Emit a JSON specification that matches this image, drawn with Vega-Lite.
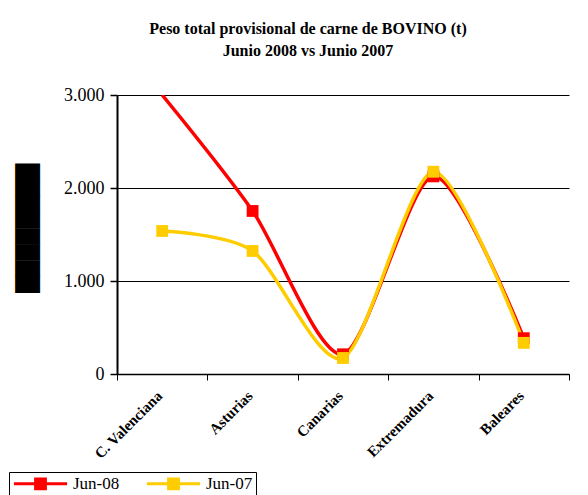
{
  "$schema": "https://vega.github.io/schema/vega-lite/v6.json",
  "width": 452,
  "height": 279,
  "autosize": {"type": "none"},
  "padding": {"left": 117, "top": 95, "right": 19, "bottom": 121},
  "background": "white",
  "title": {
    "text": ["Peso total provisional de carne de BOVINO (t)", "Junio 2008 vs Junio 2007"],
    "font": "Liberation Serif",
    "fontSize": 16,
    "fontWeight": "bold",
    "color": "black",
    "anchor": "middle",
    "frame": "group",
    "dx": -35,
    "offset": 27,
    "lineHeight": 22
  },
  "data": {
    "values": [
      {"region": "C. Valenciana", "serie": "Jun-08", "value": 3000},
      {"region": "Asturias", "serie": "Jun-08", "value": 1753},
      {"region": "Canarias", "serie": "Jun-08", "value": 212},
      {"region": "Extremadura", "serie": "Jun-08", "value": 2125},
      {"region": "Baleares", "serie": "Jun-08", "value": 385},
      {"region": "C. Valenciana", "serie": "Jun-07", "value": 1538},
      {"region": "Asturias", "serie": "Jun-07", "value": 1323},
      {"region": "Canarias", "serie": "Jun-07", "value": 172},
      {"region": "Extremadura", "serie": "Jun-07", "value": 2175},
      {"region": "Baleares", "serie": "Jun-07", "value": 335}
    ]
  },
  "encoding": {
    "x": {
      "field": "region",
      "type": "nominal",
      "sort": null,
      "scale": {"paddingInner": 0, "paddingOuter": 0},
      "axis": {
        "title": null,
        "labelAngle": -45,
        "labelFont": "Liberation Serif",
        "labelFontSize": 15,
        "labelFontWeight": "bold",
        "labelColor": "black",
        "labelOffset": -8,
        "tickBand": "extent",
        "tickSize": 6,
        "tickColor": "black",
        "domainColor": "black",
        "domainWidth": 1.5,
        "labelPadding": 8,
        "grid": false
      }
    },
    "y": {
      "field": "value",
      "type": "quantitative",
      "scale": {"domain": [0, 3000], "nice": false},
      "axis": {
        "values": [0, 1000, 2000, 3000],
        "labelExpr": "replace(format(datum.value, ','), ',', '.')",
        "labelFont": "Liberation Serif",
        "labelFontSize": 18,
        "labelColor": "black",
        "tickSize": 7,
        "tickColor": "black",
        "tickWidth": 1.5,
        "domainColor": "black",
        "domainWidth": 2,
        "labelPadding": 6,
        "grid": true,
        "gridColor": "black",
        "gridWidth": 1.2,
        "gridOpacity": 1,
        "title": "████████",
        "titleFont": "DejaVu Sans",
        "titleFontSize": 21,
        "titleFontWeight": "normal",
        "titleColor": "black",
        "titleAngle": -90,
        "titleX": -89,
        "titleY": 133,
        "titleAlign": "center",
        "titleBaseline": "middle"
      }
    },
    "color": {
      "field": "serie",
      "type": "nominal",
      "sort": ["Jun-08", "Jun-07"],
      "scale": {"domain": ["Jun-08", "Jun-07"], "range": ["#FF0000", "#FFCC00"]},
      "legend": {
        "title": null,
        "orient": "none",
        "legendX": -108,
        "legendY": 377,
        "direction": "horizontal",
        "strokeColor": "black",
        "fillColor": "white",
        "padding": 3,
        "labelFont": "Liberation Serif",
        "labelFontSize": 17,
        "labelColor": "black",
        "symbolType": "M-3.8,0L3.8,0M-0.7,-0.7L0.7,-0.7L0.7,0.7L-0.7,0.7Z",
        "symbolSize": 196,
        "symbolOffset": 20,
        "labelOffset": 24,
        "columnPadding": 20,
        "symbolStrokeWidth": 3,
        "symbolOpacity": 1,
        "encode": {
          "symbols": {
            "update": {
              "fill": {"scale": "color", "field": "value"},
              "stroke": {"scale": "color", "field": "value"},
              "fillOpacity": {"value": 1}
            }
          }
        }
      }
    }
  },
  "layer": [
    {
      "mark": {"type": "line", "interpolate": "cardinal", "tension": 0.2, "strokeWidth": 3.5, "clip": true}
    },
    {
      "transform": [{"filter": "datum.value < 3000"}],
      "mark": {"type": "point", "shape": "square", "filled": true, "size": 140, "opacity": 1}
    }
  ],
  "config": {
    "view": {"stroke": null}
  }
}
